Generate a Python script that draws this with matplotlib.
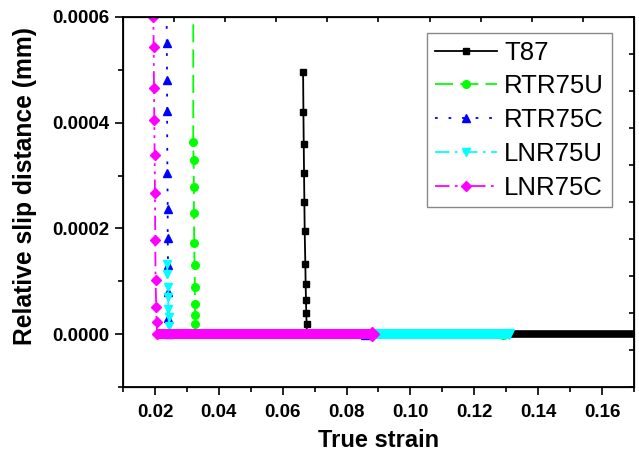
import numpy as np
import matplotlib
matplotlib.use("Agg")
import matplotlib.pyplot as plt
from matplotlib.ticker import MultipleLocator, FormatStrFormatter

plt.rcParams["font.family"] = ["Liberation Sans", "DejaVu Sans"]

# --- data --------------------------------------------------------------
# vertical (drop) part of each curve: strain, slip
t87_x = [0.0664, 0.0665, 0.0666, 0.0667, 0.0668, 0.0669, 0.0671, 0.0672, 0.0673, 0.0674, 0.0675, 0.0676]
t87_y = [0.000496, 0.000420, 0.000359, 0.000305, 0.000250, 0.000195, 0.000133,
         0.0000948, 0.0000650, 0.0000391, 0.0000201, 0.0]

rtr75u_x = [0.0320, 0.0320, 0.0321, 0.0322, 0.0322, 0.0323, 0.0324, 0.0325, 0.0325, 0.0326, 0.0326, 0.0327]
rtr75u_y = [0.00080, 0.000364, 0.000329, 0.000278, 0.000230, 0.000172, 0.000130,
            0.0000897, 0.0000569, 0.0000366, 0.0000190, 0.0]

rtr75c_x = [0.0236, 0.0237, 0.0238, 0.0238, 0.0239, 0.0240, 0.0240, 0.0241, 0.0241, 0.0242, 0.0243]
rtr75c_y = [0.00080, 0.000550, 0.000480, 0.000423, 0.000305, 0.000236, 0.000182,
            0.000130, 0.000080, 0.000030, 0.0]

lnr75u_x = [0.0238, 0.0239, 0.0240, 0.0241, 0.0242, 0.0243, 0.0244, 0.0246]
lnr75u_y = [0.000133, 0.000114, 0.0000884, 0.0000695, 0.0000474, 0.0000316, 0.0000158, 0.0]

lnr75c_x = [0.0195, 0.0195, 0.0196, 0.0197, 0.0198, 0.0199, 0.0200, 0.0201, 0.0202, 0.0204, 0.0205, 0.0207]
lnr75c_y = [0.00080, 0.000600, 0.000543, 0.000466, 0.000406, 0.000338, 0.000267,
            0.000179, 0.000102, 0.0000505, 0.0000221, 0.0]

# zero plateau after the drop: last strain reached by each curve
t87_end = 0.175
rtr75u_end = 0.129
rtr75c_end = 0.086
lnr75u_end = 0.131
lnr75c_end = 0.088

labels = ["T87", "RTR75U", "RTR75C", "LNR75U", "LNR75C"]
colors = ["black", "#00ff00", "#0000ff", "#00ffff", "#ff00ff"]
markers = ["s", "o", "^", "v", "D"]
styles = ["-", (0, (10, 4)), (0, (1.5, 6)), (0, (8, 3, 1.5, 3)), (0, (8, 3, 1.5, 3, 1.5, 3))]
msizes = [4.5, 5.5, 6, 6, 5.5]
band_w = [5.5, 5.5, 6.5, 7.2, 7.2]

series = [
    (t87_x, t87_y, t87_end),
    (rtr75u_x, rtr75u_y, rtr75u_end),
    (rtr75c_x, rtr75c_y, rtr75c_end),
    (lnr75u_x, lnr75u_y, lnr75u_end),
    (lnr75c_x, lnr75c_y, lnr75c_end),
]

fig = plt.figure(figsize=(6.39, 4.53), dpi=100)
ax = fig.add_axes([0.1925, 0.1457, 0.7995, 0.8168])

for (xs, ys, xend), lab, c, m, ls, ms, bw in zip(series, labels, colors, markers, styles, msizes, band_w):
    ax.plot(xs, ys, color=c, ls=ls, lw=1.3, marker=m, ms=ms, mec=c, mfc=c, label=lab)
    # dense markers along zero drawn as a thick band
    ax.plot([xs[-1], xend], [0, 0], color=c, lw=bw, solid_capstyle="butt")
    ax.plot([xend], [0], color=c, marker=m, ms=ms + 1.5, mec=c, mfc=c, ls="none")

ax.set_xlim(0.01, 0.17)
ax.set_ylim(-0.0001, 0.0006)
ax.xaxis.set_major_locator(MultipleLocator(0.02))
ax.xaxis.set_minor_locator(MultipleLocator(0.01))
ax.yaxis.set_major_locator(MultipleLocator(0.0002))
ax.yaxis.set_minor_locator(MultipleLocator(0.0001))
ax.xaxis.set_major_formatter(FormatStrFormatter("%.2f"))
ax.yaxis.set_major_formatter(FormatStrFormatter("%.4f"))
ax.tick_params(which="major", direction="out", length=6, width=1.2,
               labelsize=13.5, top=False, right=False)
ax.tick_params(axis="x", which="major", pad=6)
ax.tick_params(which="minor", direction="out", length=3.5, width=1.2, top=False, right=False)
for lbl in ax.get_xticklabels() + ax.get_yticklabels():
    lbl.set_fontweight("bold")
for s in ax.spines.values():
    s.set_linewidth(1.3)

ax.set_xlabel("True strain", fontsize=17, fontweight="bold", labelpad=6)
ax.set_ylabel("Relative slip distance (mm)", fontsize=17.7, fontweight="bold")
ax.yaxis.set_label_coords(-0.168, 0.543)

leg = ax.legend(loc="upper right", bbox_to_anchor=(0.957, 0.957), borderaxespad=0,
                fontsize=18.5, numpoints=1, handlelength=2.4, handletextpad=0.3,
                borderpad=0.3, labelspacing=0.38, fancybox=False,
                edgecolor="#888888", framealpha=1)
leg.get_frame().set_linewidth(1.0)

# short inward ticks on top and right edges (10 divisions each)
ax_top = ax.twiny()
ax_top.set_xlim(0, 1)
ax_top.set_xticks(np.linspace(0, 1, 11))
ax_top.tick_params(axis="x", direction="in", length=3.5, width=1.2, labeltop=False)
ax_right = ax.twinx()
ax_right.set_ylim(0, 1)
ax_right.set_yticks(np.linspace(0, 1, 11))
ax_right.tick_params(axis="y", direction="in", length=3.5, width=1.2, labelright=False)

fig.savefig("out.png", dpi=100)
